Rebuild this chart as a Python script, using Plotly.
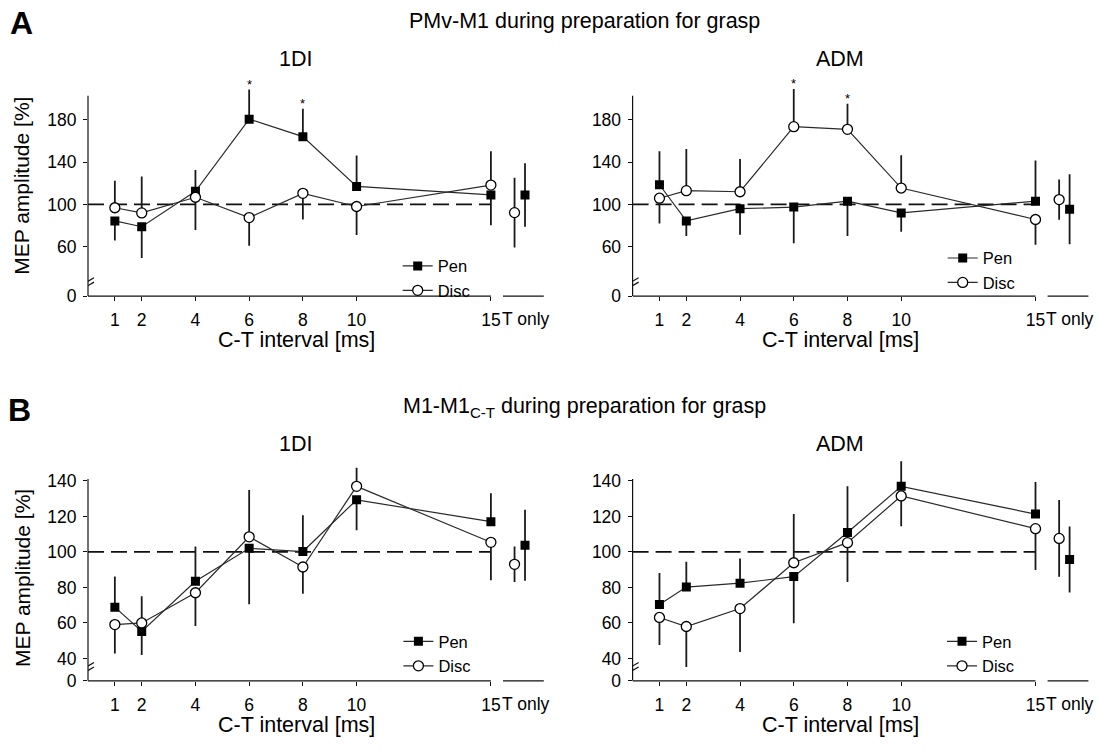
import plotly.graph_objects as go

# ---------------- data ----------------
intervals = [1, 2, 4, 6, 8, 10, 15]
interval_labels = ["1", "2", "4", "6", "8", "10", "15"]
tonly_label = "T only"
reference_level = 100

# Panel A, 1DI (PMv-M1)
a1_pen = [84.5, 79.0, 112.4, 180.5, 164.0, 117.0, 109.0]
a1_pen_se = [18.5, 29.5, 20.1, 27.9, 26.4, 29.1, 28.5]
a1_disc = [96.9, 92.0, 106.8, 87.6, 110.5, 98.1, 118.3]
a1_disc_se = [25.4, 34.3, 30.9, 26.6, 24.7, 26.9, 31.9]
a1_tonly_pen, a1_tonly_pen_se = 109.0, 30.0
a1_tonly_disc, a1_tonly_disc_se = 92.3, 33.0
a1_sig = [6, 8]

# Panel A, ADM
a2_pen = [118.6, 84.5, 96.0, 97.5, 103.1, 92.0, 103.1]
a2_pen_se = [31.6, 14.2, 24.5, 34.0, 32.8, 17.7, 38.4]
a2_disc = [105.9, 113.0, 112.0, 173.4, 170.9, 115.5, 85.8]
a2_disc_se = [23.9, 39.3, 31.0, 35.6, 24.1, 30.9, 23.9]
a2_tonly_pen, a2_tonly_pen_se = 95.4, 33.0
a2_tonly_disc, a2_tonly_disc_se = 104.6, 19.0
a2_sig = [6, 8]

# Panel B, 1DI (M1-M1 C-T)
b1_pen = [68.9, 55.2, 83.5, 102.0, 100.2, 129.3, 117.0]
b1_pen_se = [17.2, 13.3, 19.5, 31.4, 20.5, 17.1, 16.0]
b1_disc = [59.1, 60.0, 77.0, 108.5, 91.5, 136.9, 105.4]
b1_disc_se = [16.3, 15.0, 18.7, 26.3, 15.0, 10.5, 21.3]
b1_tonly_pen, b1_tonly_pen_se = 103.7, 20.0
b1_tonly_disc, b1_tonly_disc_se = 93.0, 10.0
b1_sig = []

# Panel B, ADM
b2_pen = [70.4, 80.2, 82.4, 86.1, 110.9, 136.9, 121.3]
b2_pen_se = [17.7, 14.2, 13.9, 26.3, 26.1, 14.2, 18.1]
b2_disc = [63.1, 58.0, 68.1, 93.9, 105.2, 131.5, 113.1]
b2_disc_se = [15.5, 22.8, 24.4, 27.4, 22.2, 17.1, 23.3]
b2_tonly_pen, b2_tonly_pen_se = 95.7, 18.6
b2_tonly_disc, b2_tonly_disc_se = 107.6, 21.6
b2_sig = []

a_ytick_vals = [60, 100, 140, 180]
b_ytick_vals = [40, 60, 80, 100, 120, 140]

# ---------------- layout constants ----------------
W, H = 1102, 756
FONT = "Liberation Sans, Arial, sans-serif"
INK = "#111111"
PX_PER_MS = 26.86
X_MAX = 17.1
TONLY_DISC_X, TONLY_PEN_X = 15.88, 16.27
TONLY_SEG = (15.45, 16.97)
TICK_FONT = 17.5


def xdom(x0px):
    return [x0px / W, (x0px + X_MAX * PX_PER_MS) / W]


def ydom(top_px, bottom_px):
    return [1 - bottom_px / H, 1 - top_px / H]


panels = [
    dict(pen=a1_pen, pen_se=a1_pen_se, disc=a1_disc, disc_se=a1_disc_se,
         tp=a1_tonly_pen, tp_se=a1_tonly_pen_se, td=a1_tonly_disc, td_se=a1_tonly_disc_se,
         sig=a1_sig, xd=xdom(88.0), yd=ydom(83.7, 300.0), yr=[13.6, 215], ytop=202.5,
         yt=a_ytick_vals, brk=25.5, leg=(397.7, 252.0), title="1DI", title_y=60),
    dict(pen=a2_pen, pen_se=a2_pen_se, disc=a2_disc, disc_se=a2_disc_se,
         tp=a2_tonly_pen, tp_se=a2_tonly_pen_se, td=a2_tonly_disc, td_se=a2_tonly_disc_se,
         sig=a2_sig, xd=xdom(632.6), yd=ydom(83.7, 300.0), yr=[13.6, 215], ytop=202.5,
         yt=a_ytick_vals, brk=25.5, leg=(942.7, 244.0), title="ADM", title_y=60),
    dict(pen=b1_pen, pen_se=b1_pen_se, disc=b1_disc, disc_se=b1_disc_se,
         tp=b1_tonly_pen, tp_se=b1_tonly_pen_se, td=b1_tonly_disc, td_se=b1_tonly_disc_se,
         sig=b1_sig, xd=xdom(88.0), yd=ydom(465.7, 690.0), yr=[27.4, 152], ytop=141,
         yt=b_ytick_vals, brk=34.5, leg=(398.4, 632.5), title="1DI", title_y=450),
    dict(pen=b2_pen, pen_se=b2_pen_se, disc=b2_disc, disc_se=b2_disc_se,
         tp=b2_tonly_pen, tp_se=b2_tonly_pen_se, td=b2_tonly_disc, td_se=b2_tonly_disc_se,
         sig=b2_sig, xd=xdom(632.6), yd=ydom(465.7, 690.0), yr=[27.4, 152], ytop=141,
         yt=b_ytick_vals, brk=34.5, leg=(942.0, 632.5), title="ADM", title_y=450),
]

fig = go.Figure()
shapes = []
annotations = []
layout = {}

for n, p in enumerate(panels, start=1):
    sfx = "" if n == 1 else str(n)
    xa, ya = "x" + sfx, "y" + sfx
    legname = "legend" + sfx
    pen, disc = p["pen"], p["disc"]
    pen_up = [a > b for a, b in zip(pen, disc)]

    # reference dashed line at 100 %
    fig.add_trace(go.Scatter(
        x=[0, intervals[-1]], y=[reference_level, reference_level], mode="lines",
        line=dict(color=INK, width=1.8, dash="16px,7px"), showlegend=False,
        hoverinfo="skip", xaxis=xa, yaxis=ya))

    err_common = dict(type="data", symmetric=False, color="#1a1a1a", thickness=1.8, width=0)
    fig.add_trace(go.Scatter(
        x=intervals, y=pen, mode="lines+markers", name="Pen", legend=legname,
        marker=dict(symbol="square", size=9, color="black", line=dict(width=0)),
        line=dict(color="#2a2a2a", width=1.2),
        error_y=dict(array=[s if u else 0 for s, u in zip(p["pen_se"], pen_up)],
                     arrayminus=[0 if u else s for s, u in zip(p["pen_se"], pen_up)],
                     **err_common),
        xaxis=xa, yaxis=ya))
    fig.add_trace(go.Scatter(
        x=intervals, y=disc, mode="lines+markers", name="Disc", legend=legname,
        marker=dict(symbol="circle", size=10, color="white", line=dict(color="black", width=1.3)),
        line=dict(color="#2a2a2a", width=1.2),
        error_y=dict(array=[0 if u else s for s, u in zip(p["disc_se"], pen_up)],
                     arrayminus=[s if u else 0 for s, u in zip(p["disc_se"], pen_up)],
                     **err_common),
        xaxis=xa, yaxis=ya))
    # T only
    fig.add_trace(go.Scatter(
        x=[TONLY_DISC_X], y=[p["td"]], mode="markers", showlegend=False,
        marker=dict(symbol="circle", size=10, color="white", line=dict(color="black", width=1.3)),
        error_y=dict(type="data", array=[p["td_se"]], color="#1a1a1a", thickness=1.8, width=0),
        xaxis=xa, yaxis=ya))
    fig.add_trace(go.Scatter(
        x=[TONLY_PEN_X], y=[p["tp"]], mode="markers", showlegend=False,
        marker=dict(symbol="square", size=9, color="black"),
        error_y=dict(type="data", array=[p["tp_se"]], color="#1a1a1a", thickness=1.8, width=0),
        xaxis=xa, yaxis=ya))

    # axes
    layout["xaxis" + sfx] = dict(
        domain=p["xd"], range=[0, X_MAX], anchor=ya, tickmode="array",
        tickvals=intervals, ticktext=interval_labels, ticks="outside", ticklen=4,
        tickwidth=1, tickcolor=INK, showline=False, showgrid=False, zeroline=False,
        ticklabelstandoff=4,
        tickfont=dict(size=TICK_FONT, color="black", family=FONT))
    layout["yaxis" + sfx] = dict(
        domain=p["yd"], range=p["yr"], anchor=xa, tickmode="array",
        tickvals=[p["yr"][0]] + p["yt"], ticktext=["0"] + [str(v) for v in p["yt"]],
        ticks="outside", ticklen=4, tickwidth=1, tickcolor=INK, showline=False,
        showgrid=False, zeroline=False, ticklabelstandoff=3,
        tickfont=dict(size=TICK_FONT, color="black", family=FONT))

    # axis lines
    shapes.append(dict(type="line", xref=xa + " domain", x0=0, x1=0, yref=ya,
                       y0=p["yr"][0], y1=p["ytop"], line=dict(color=INK, width=1.2)))
    shapes.append(dict(type="line", xref=xa, x0=0, x1=intervals[-1], yref=ya + " domain",
                       y0=0, y1=0, line=dict(color=INK, width=1.2)))
    shapes.append(dict(type="line", xref=xa, x0=TONLY_SEG[0], x1=TONLY_SEG[1],
                       yref=ya + " domain", y0=0, y1=0, line=dict(color=INK, width=1.2)))
    # axis break marks
    for off in (-2.2, 2.2):
        shapes.append(dict(type="line", xref=xa, xsizemode="pixel", xanchor=0,
                           x0=-6, x1=6, yref=ya, ysizemode="pixel", yanchor=p["brk"],
                           y0=off - 3.5, y1=off + 3.5, line=dict(color=INK, width=1.2)))

    # legend
    lx, ly = p["leg"]
    layout[legname] = dict(x=lx / W, y=1 - ly / H, xanchor="left", yanchor="top",
                           bgcolor="rgba(0,0,0,0)", borderwidth=0,
                           font=dict(size=16.5, color="black", family=FONT),
                           tracegroupgap=0)

    # T only tick label
    annotations.append(dict(text=tonly_label, xref=xa, x=16.3, yref=ya + " domain", y=0,
                            yanchor="top", xanchor="center", yshift=-11, showarrow=False,
                            font=dict(size=TICK_FONT, color="black", family=FONT)))
    # x title
    annotations.append(dict(text="C-T interval [ms]", xref=xa, x=7.75, yref=ya + " domain",
                            y=0, yanchor="top", xanchor="center", yshift=-30, showarrow=False,
                            font=dict(size=21.5, color="black", family=FONT)))
    # subplot title
    annotations.append(dict(text=p["title"], xref=xa, x=7.72, yref="paper",
                            y=1 - p["title_y"] / H, yanchor="middle", xanchor="center",
                            showarrow=False, font=dict(size=21.5, color="black", family=FONT)))
    # significance asterisks
    for s in p["sig"]:
        i = intervals.index(s)
        top = pen[i] + p["pen_se"][i] if pen_up[i] else disc[i] + p["disc_se"][i]
        annotations.append(dict(text="*", xref=xa, x=s, yref=ya, y=top, yanchor="bottom",
                                xanchor="center", yshift=-4, showarrow=False,
                                font=dict(size=13, color="black", family=FONT)))

# y titles
for ycen in (188.3, 585.8):
    annotations.append(dict(text="MEP amplitude [%]", xref="paper", x=22.0 / W, yref="paper",
                            y=1 - ycen / H, textangle=-90, xanchor="center", yanchor="middle",
                            showarrow=False, font=dict(size=21, color="black", family=FONT)))
# main titles and panel letters
annotations.append(dict(text="PMv-M1 during preparation for grasp", xref="paper", x=584 / W,
                        yref="paper", y=1 - 21 / H, xanchor="center", yanchor="middle",
                        showarrow=False, font=dict(size=21.5, color="black", family=FONT)))
annotations.append(dict(text="M1-M1<sub>C-T</sub> during preparation for grasp", xref="paper",
                        x=584 / W, yref="paper", y=1 - 413 / H, xanchor="center",
                        yanchor="middle", showarrow=False,
                        font=dict(size=21.5, color="black", family=FONT)))
annotations.append(dict(text="<b>A</b>", xref="paper", x=21 / W, yref="paper", y=1 - 23 / H,
                        xanchor="center", yanchor="middle", showarrow=False,
                        font=dict(size=32, color="black", family=FONT)))
annotations.append(dict(text="<b>B</b>", xref="paper", x=19.3 / W, yref="paper",
                        y=1 - 415 / H, xanchor="center", yanchor="middle", showarrow=False,
                        font=dict(size=32, color="black", family=FONT)))

fig.update_layout(
    width=W, height=H, margin=dict(l=0, r=0, t=0, b=0),
    paper_bgcolor="white", plot_bgcolor="white",
    font=dict(family=FONT, color="black"),
    shapes=shapes, annotations=annotations, **layout)

fig.write_html(
    "out.html",
    config={"displayModeBar": False},
    post_script=(
        "document.documentElement.style.margin='0';"
        "document.documentElement.style.overflow='hidden';"
        "document.body.style.margin='0';document.body.style.padding='0';"
        "document.body.style.overflow='hidden';"
    ),
)
